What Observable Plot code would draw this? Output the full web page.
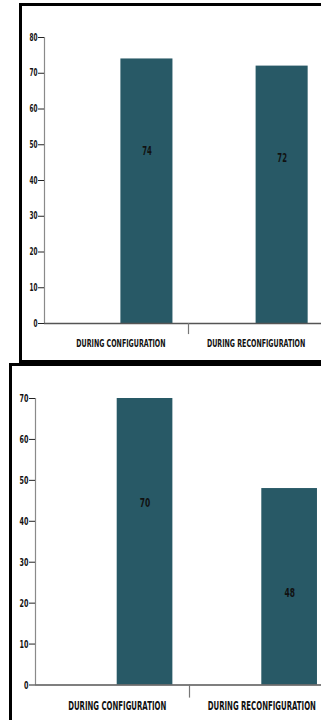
<!DOCTYPE html>
<html>
<head>
<meta charset="utf-8">
<script src="https://cdn.jsdelivr.net/npm/d3@7"></script>
<script src="https://cdn.jsdelivr.net/npm/@observablehq/plot@0.6"></script>
<style>
  html, body { margin: 0; padding: 0; background: #fff; overflow: hidden; }
  #page { position: relative; width: 321px; height: 720px; overflow: hidden; }
  .box { position: absolute; border: 3px solid #000; box-sizing: border-box; }
  .chart { position: absolute; left: 0; }
</style>
</head>
<body>
<div id="page">
  <div class="box" style="left:19px;top:3px;width:420px;height:360px"></div>
  <div class="box" style="left:9px;top:363px;width:420px;height:420px"></div>
  <div class="chart" id="chart1" style="top:0"></div>
  <div class="chart" id="chart2" style="top:360px"></div>
</div>
<script>
// Phases compared in both panels
const categories = ["DURING CONFIGURATION", "DURING RECONFIGURATION"];

// Upper panel
const upperValues = [74, 72];
const upperTicks = [0, 10, 20, 30, 40, 50, 60, 70, 80];

// Lower panel
const lowerValues = [70, 48];
const lowerTicks = [0, 10, 20, 30, 40, 50, 60, 70];

const barColor = "#285966";
const barWidth = 0.385;          // in category units; each bar starts at its category centre
const xDomain = [-0.565, 1.565];

// Labels are set in a tall, narrow face: squeeze every text horizontally about its anchor.
function condense(svg, k) {
  svg.querySelectorAll("text").forEach((t) => {
    const tr = t.getAttribute("transform") || "";
    const x = t.getAttribute("x");
    let shift = "";
    if (x != null && x !== "" && !isNaN(+x)) {
      t.removeAttribute("x");
      shift = ` translate(${+x},0)`;
    }
    t.setAttribute("transform", `${tr}${shift} scale(${k},1)`);
  });
}

function panel({values, ticks, width, height, margins, axisFont, catFont, valueFont, labelDrop, dividerLen, squeeze}) {
  const data = values.map((value, i) => ({i, value, category: categories[i]}));
  const yMax = ticks[ticks.length - 1];
  const svg = Plot.plot({
    width, height,
    marginLeft: margins[0], marginRight: margins[1], marginTop: margins[2], marginBottom: margins[3],
    style: {background: "transparent", maxWidth: "none", overflow: "visible",
            fontFamily: "'DejaVu Sans', sans-serif", fontWeight: "bold", color: "#111"},
    x: {type: "linear", domain: xDomain, axis: null},
    y: {domain: [0, yMax], axis: null},
    marks: [
      Plot.rect(data, {x1: "i", x2: (d) => d.i + barWidth, y1: 0, y2: "value", fill: barColor}),
      Plot.ruleX([xDomain[0]], {y1: 0, y2: yMax, stroke: "#8a8a8a", strokeWidth: 1.2}),
      Plot.ruleY([0], {stroke: "#555", strokeWidth: 1.3}),
      Plot.ruleX([0.5], {y1: 0, y2: -dividerLen, stroke: "#777", strokeWidth: 1.2}),
      Plot.axisY({ticks, label: null, tickSize: 6, tickPadding: 1, fontSize: axisFont,
                  fontWeight: "bold", stroke: "#222"}),
      Plot.axisX({ticks: [0, 1], label: null, tickFormat: (d) => categories[d], tickSize: 0, tickPadding: 16,
                  fontSize: catFont, fontWeight: "bold"}),
      Plot.text(data, {x: (d) => d.i + barWidth / 2, y: "value", text: (d) => String(d.value),
                       dy: labelDrop, fontSize: valueFont, fontWeight: "bold", fill: "#111"})
    ]
  });
  condense(svg, squeeze);
  return svg;
}

document.getElementById("chart1").append(panel({
  values: upperValues, ticks: upperTicks,
  width: 340, height: 362, margins: [44, 8, 37, 39],
  axisFont: 10, catFont: 11, valueFont: 12, labelDrop: 92, dividerLen: 3.1, squeeze: 0.575
}));

document.getElementById("chart2").append(panel({
  values: lowerValues, ticks: lowerTicks,
  width: 350, height: 360, margins: [35, 7, 38, 35.5],
  axisFont: 11, catFont: 12, valueFont: 13, labelDrop: 104, dividerLen: 3.2, squeeze: 0.58
}));
</script>
</body>
</html>
